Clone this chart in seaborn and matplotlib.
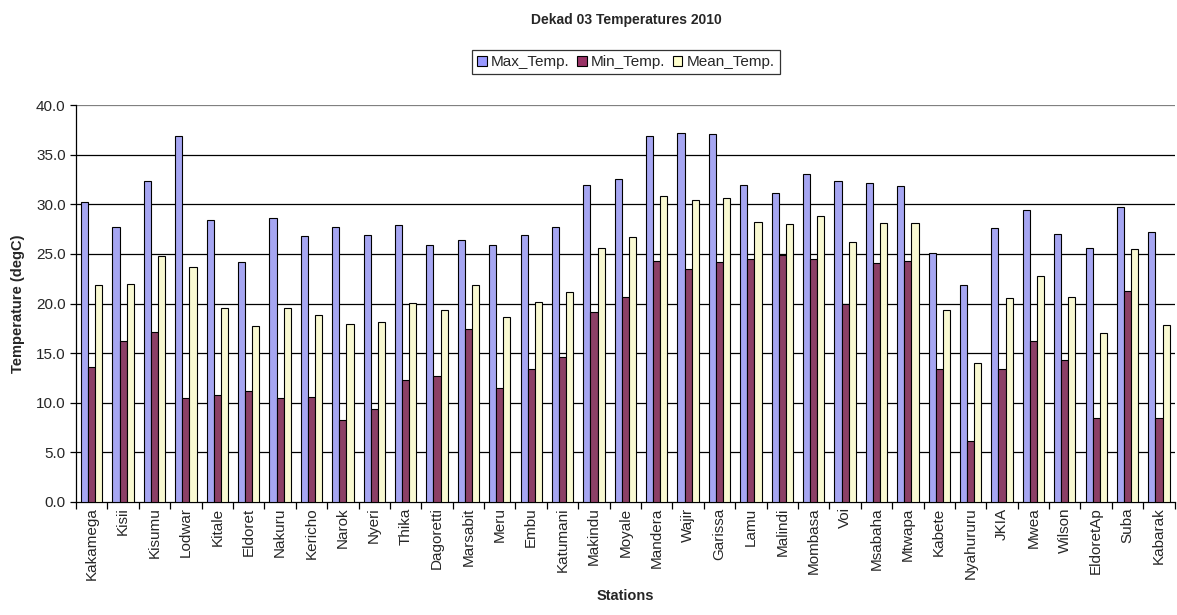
import numpy as np
import pandas as pd
import matplotlib
matplotlib.use("Agg")
import matplotlib.pyplot as plt
import seaborn as sns
from matplotlib.patches import Patch
from matplotlib.ticker import FixedLocator, FormatStrFormatter

stations = ['Kakamega', 'Kisii', 'Kisumu', 'Lodwar', 'Kitale', 'Eldoret', 'Nakuru',
            'Kericho', 'Narok', 'Nyeri', 'Thika', 'Dagoretti', 'Marsabit', 'Meru',
            'Embu', 'Katumani', 'Makindu', 'Moyale', 'Mandera', 'Wajir', 'Garissa',
            'Lamu', 'Malindi', 'Mombasa', 'Voi', 'Msabaha', 'Mtwapa', 'Kabete',
            'Nyahururu', 'JKIA', 'Mwea', 'Wilson', 'EldoretAp', 'Suba', 'Kabarak']

max_temp = [30.2, 27.7, 32.4, 36.9, 28.4, 24.2, 28.6, 26.8, 27.7, 26.9, 27.9, 25.9,
            26.4, 25.9, 26.9, 27.7, 32.0, 32.6, 36.9, 37.2, 37.1, 31.9, 31.1, 33.1,
            32.4, 32.2, 31.8, 25.1, 21.9, 27.6, 29.4, 27.0, 25.6, 29.7, 27.2]
min_temp = [13.6, 16.25, 17.1, 10.5, 10.8, 11.2, 10.5, 10.6, 8.3, 9.4, 12.3, 12.7,
            17.4, 11.5, 13.4, 14.6, 19.1, 20.7, 24.3, 23.5, 24.2, 24.5, 24.9, 24.5,
            20.0, 24.1, 24.3, 13.4, 6.1, 13.4, 16.25, 14.3, 8.5, 21.3, 8.5]
mean_temp = [21.9, 22.0, 24.8, 23.7, 19.5, 17.7, 19.5, 18.8, 17.9, 18.1, 20.1, 19.3,
             21.9, 18.6, 20.2, 21.2, 25.6, 26.7, 30.8, 30.4, 30.6, 28.2, 28.0, 28.8,
             26.2, 28.1, 28.1, 19.3, 14.0, 20.6, 22.8, 20.7, 17.0, 25.5, 17.8]

series_names = ['Max_Temp.', 'Min_Temp.', 'Mean_Temp.']
colors = ['#9999FF', '#993366', '#FFFFCC']

df = pd.DataFrame({'Station': stations, 'Max_Temp.': max_temp,
                   'Min_Temp.': min_temp, 'Mean_Temp.': mean_temp})
long_df = df.melt(id_vars='Station', var_name='Series', value_name='Temp')

sns.set_style('white')
plt.rcParams['font.family'] = ['Liberation Sans', 'DejaVu Sans']

fig = plt.figure(figsize=(11.77, 6.15), dpi=100)
ax = fig.add_axes([0.0646, 0.184, 0.9334, 0.645])

sns.barplot(data=long_df, x='Station', y='Temp', hue='Series',
            hue_order=series_names, palette=colors, order=stations,
            edgecolor='black', linewidth=0.8, width=0.68, errorbar=None,
            legend=False, ax=ax, zorder=3)

ax.set_ylim(0, 40)
ax.set_xlim(-0.5, len(stations) - 0.5)
ax.set_yticks(np.arange(0, 40.1, 5))
ax.yaxis.set_major_formatter(FormatStrFormatter('%.1f'))
for y in np.arange(5, 40.1, 5):
    ax.axhline(y, color='#808080' if y == 40 else 'black', lw=0.9, zorder=1)

for side in ['top', 'right']:
    ax.spines[side].set_visible(False)
for side in ['left', 'bottom']:
    ax.spines[side].set_color('black')
    ax.spines[side].set_linewidth(0.9)

ax.tick_params(axis='y', direction='out', length=4, width=0.9, color='black',
               labelsize=11, left=True)
ax.tick_params(axis='x', which='major', length=0, labelsize=11, rotation=90, pad=4)
ax.xaxis.set_minor_locator(FixedLocator(np.arange(-0.5, len(stations), 1.0)))
ax.tick_params(axis='x', which='minor', direction='out', length=5, width=0.9,
               color='black', bottom=True)

ax.set_xlabel('Stations', fontsize=10.5, fontweight='bold', labelpad=6)
ax.set_ylabel('Temperature (degC)', fontsize=10.5, fontweight='bold', labelpad=8)
fig.text(0.532, 0.968, 'Dekad 03 Temperatures 2010', fontsize=10, fontweight='bold',
         ha='center', va='center')

handles = [Patch(facecolor=c, edgecolor='black', linewidth=0.8) for c in colors]
leg = fig.legend(handles, series_names, loc='center', bbox_to_anchor=(0.532, 0.899),
                 ncol=3, fontsize=11, frameon=True, fancybox=False,
                 handlelength=0.6, handleheight=0.6, handletextpad=0.3,
                 columnspacing=0.5, borderpad=0.35)
leg.get_frame().set_edgecolor('black')
leg.get_frame().set_linewidth(0.9)

fig.savefig('out.png', dpi=100)
